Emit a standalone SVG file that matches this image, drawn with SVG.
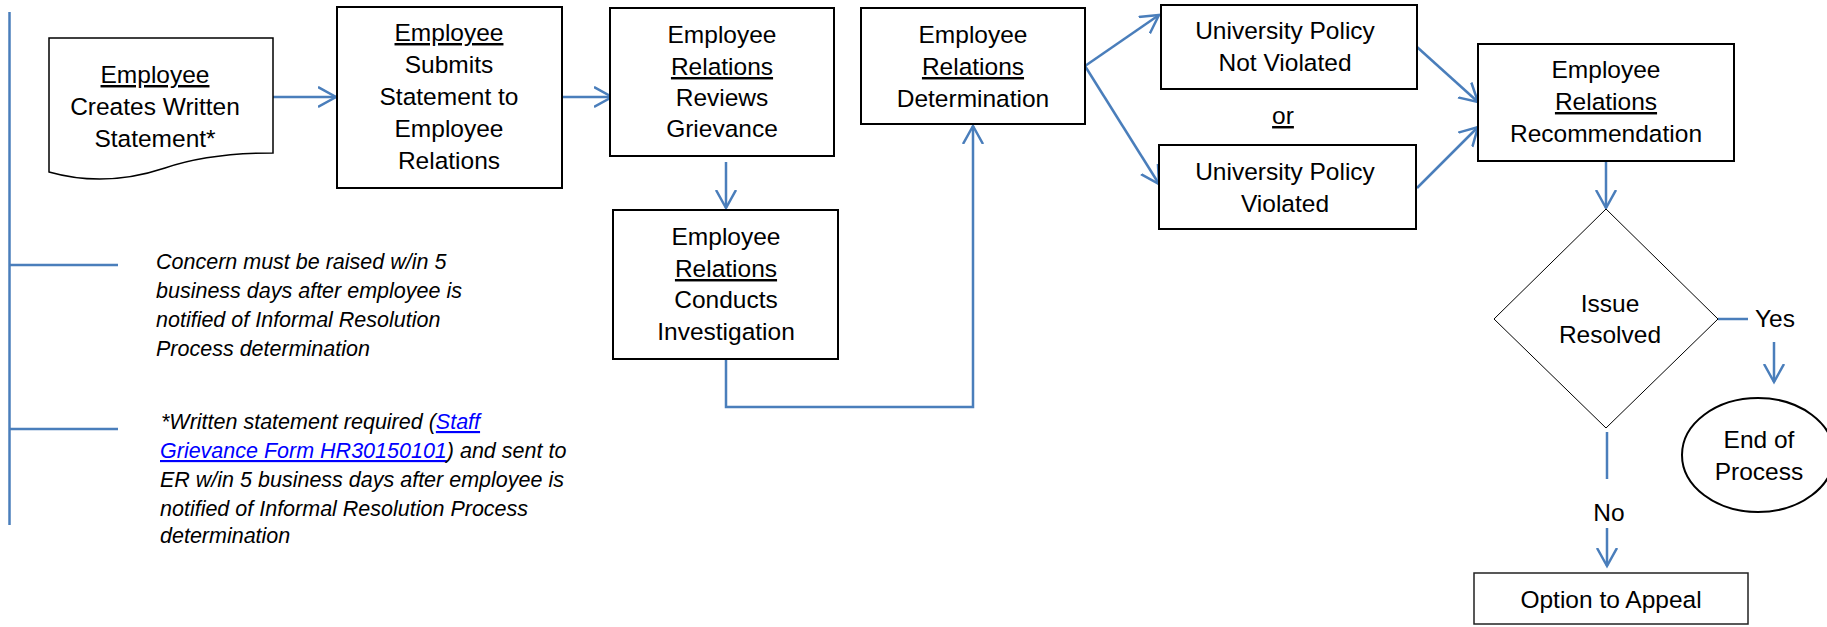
<svg xmlns="http://www.w3.org/2000/svg" width="1827" height="627" viewBox="0 0 1827 627">
<defs>
<style>
.box{fill:#fff;stroke:#000;stroke-width:2}
.t{font-family:"Liberation Sans",Arial,sans-serif;font-size:24.5px;fill:#000;text-anchor:middle}
.n{font-family:"Liberation Sans",Arial,sans-serif;font-size:21.5px;font-style:italic;fill:#000}
.u{text-decoration:underline}
.lk{fill:#0000ff;text-decoration:underline}
.c{fill:none;stroke:#4a7ebb;stroke-width:2.5}
</style>
<marker id="ah" markerUnits="userSpaceOnUse" markerWidth="22" markerHeight="24" refX="18" refY="11" orient="auto">
<path d="M0,1 L18,11 L0,21" fill="none" stroke="#4a7ebb" stroke-width="2.5"/>
</marker>
</defs>
<rect width="1827" height="627" fill="#fff"/>

<g id="timeline">
<line x1="9.5" y1="12" x2="9.5" y2="525" class="c" stroke-width="1.8"/>
<line x1="9.5" y1="265" x2="118" y2="265" class="c" stroke-width="1.8"/>
<line x1="9.5" y1="429" x2="118" y2="429" class="c" stroke-width="1.8"/>
</g>

<g id="connectors">
<line x1="268" y1="97" x2="336" y2="97" class="c" marker-end="url(#ah)"/>
<line x1="562" y1="97" x2="612" y2="97" class="c" marker-end="url(#ah)"/>
<line x1="726" y1="162" x2="726" y2="208" class="c" marker-end="url(#ah)"/>
<polyline points="726,359 726,407 973,407 973,126" class="c" marker-end="url(#ah)"/>
<line x1="1085" y1="66" x2="1159" y2="15" class="c" marker-end="url(#ah)"/>
<line x1="1085" y1="66" x2="1159" y2="184" class="c" marker-end="url(#ah)"/>
<line x1="1417" y1="47" x2="1478" y2="102" class="c" marker-end="url(#ah)"/>
<line x1="1417" y1="188" x2="1478" y2="127" class="c" marker-end="url(#ah)"/>
<line x1="1606" y1="161" x2="1606" y2="208" class="c" marker-end="url(#ah)"/>
<line x1="1718" y1="319" x2="1748" y2="319" class="c"/>
<line x1="1774" y1="342" x2="1774" y2="382" class="c" marker-end="url(#ah)"/>
<line x1="1607" y1="432" x2="1607" y2="479" class="c"/>
<line x1="1607" y1="528" x2="1607" y2="566" class="c" marker-end="url(#ah)"/>
</g>

<g id="doc">
<path d="M49,38 L273,38 L273,153 C240,153 200,156 165,168 C135,178 95,185 49,172 Z" fill="#fff" stroke="#000" stroke-width="1.5"/>
<text class="t" x="155" y="83"><tspan class="u">Employee</tspan></text>
<text class="t" x="155" y="115">Creates Written</text>
<text class="t" x="155" y="147">Statement*</text>
</g>

<g id="submit">
<rect class="box" x="337" y="7" width="225" height="181"/>
<text class="t" x="449" y="41"><tspan class="u">Employee</tspan></text>
<text class="t" x="449" y="73">Submits</text>
<text class="t" x="449" y="105">Statement to</text>
<text class="t" x="449" y="137">Employee</text>
<text class="t" x="449" y="169">Relations</text>
</g>

<g id="reviews">
<rect class="box" x="610" y="8" width="224" height="148"/>
<text class="t" x="722" y="43">Employee</text>
<text class="t" x="722" y="75"><tspan class="u">Relations</tspan></text>
<text class="t" x="722" y="106">Reviews</text>
<text class="t" x="722" y="137">Grievance</text>
</g>

<g id="investigation">
<rect class="box" x="613" y="210" width="225" height="149"/>
<text class="t" x="726" y="245">Employee</text>
<text class="t" x="726" y="277"><tspan class="u">Relations</tspan></text>
<text class="t" x="726" y="308">Conducts</text>
<text class="t" x="726" y="340">Investigation</text>
</g>

<g id="determination">
<rect class="box" x="861" y="8" width="224" height="116"/>
<text class="t" x="973" y="43">Employee</text>
<text class="t" x="973" y="75"><tspan class="u">Relations</tspan></text>
<text class="t" x="973" y="107">Determination</text>
</g>

<g id="notviolated">
<rect class="box" x="1161" y="5" width="256" height="84"/>
<text class="t" x="1285" y="39">University Policy</text>
<text class="t" x="1285" y="71">Not Violated</text>
</g>

<g id="or">
<text class="t" x="1283" y="124"><tspan class="u">or</tspan></text>
</g>

<g id="violated">
<rect class="box" x="1159" y="145" width="257" height="84"/>
<text class="t" x="1285" y="180">University Policy</text>
<text class="t" x="1285" y="212">Violated</text>
</g>

<g id="recommendation">
<rect class="box" x="1478" y="44" width="256" height="117"/>
<text class="t" x="1606" y="78">Employee</text>
<text class="t" x="1606" y="110"><tspan class="u">Relations</tspan></text>
<text class="t" x="1606" y="142">Recommendation</text>
</g>

<g id="resolved">
<polygon points="1606,209 1718,319 1606,428 1494,319" fill="#fff" stroke="#000" stroke-width="1"/>
<text class="t" x="1610" y="312">Issue</text>
<text class="t" x="1610" y="343">Resolved</text>
</g>

<g id="yes"><text class="t" x="1775" y="327">Yes</text></g>
<g id="no"><text class="t" x="1609" y="521">No</text></g>

<g id="end">
<ellipse cx="1758" cy="455" rx="76" ry="57" fill="#fff" stroke="#000" stroke-width="2"/>
<text class="t" x="1759" y="448">End of</text>
<text class="t" x="1759" y="480">Process</text>
</g>

<g id="appeal">
<rect x="1474" y="573" width="274" height="51" fill="#fff" stroke="#222" stroke-width="1.5"/>
<text class="t" x="1611" y="608">Option to Appeal</text>
</g>

<g id="note1">
<text class="n" x="156" y="269">Concern must be raised w/in 5</text>
<text class="n" x="156" y="298">business days after employee is</text>
<text class="n" x="156" y="327">notified of Informal Resolution</text>
<text class="n" x="156" y="356">Process determination</text>
</g>

<g id="note2">
<text class="n" x="161" y="429">*Written statement required (<tspan class="lk">Staff</tspan></text>
<text class="n" x="160" y="458"><tspan class="lk">Grievance Form HR30150101</tspan>) and sent to</text>
<text class="n" x="160" y="487">ER w/in 5 business days after employee is</text>
<text class="n" x="160" y="516">notified of Informal Resolution Process</text>
<text class="n" x="160" y="543">determination</text>
</g>
</svg>
